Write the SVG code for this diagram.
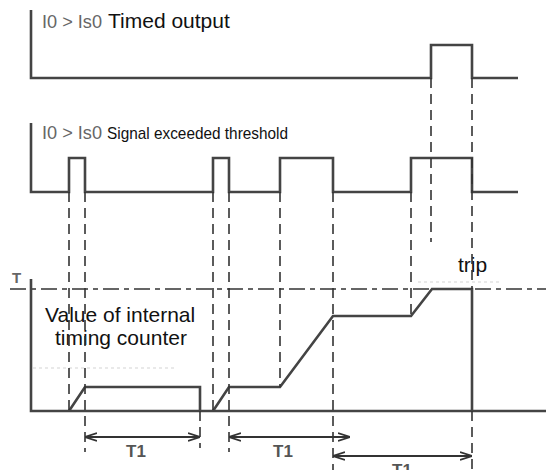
<svg xmlns="http://www.w3.org/2000/svg" width="546" height="470" viewBox="0 0 546 470">
<defs>
<style>
.sig{fill:none;stroke:#444;stroke-width:2.6;stroke-linejoin:miter}
.dash{fill:none;stroke:#333;stroke-width:1.6;stroke-dasharray:10 6}
.dd{fill:none;stroke:#333;stroke-width:1.6;stroke-dasharray:16 5 5 5}
.dim{fill:none;stroke:#333;stroke-width:1.8}
.faint{fill:none;stroke:#e2e2e2;stroke-width:1.5;stroke-dasharray:3 3}
.lbl{font-family:"Liberation Sans",Arial,sans-serif;fill:#111}
.gry{font-family:"Liberation Sans",Arial,sans-serif;fill:#666}
.t1{font-family:"Liberation Sans",Arial,sans-serif;fill:#555;font-size:17px;font-weight:bold;text-anchor:middle}
</style>
<marker id="ah" viewBox="0 0 12 10" refX="12" refY="5" markerWidth="12" markerHeight="10" markerUnits="userSpaceOnUse" orient="auto-start-reverse">
<path d="M0,1 L12,5 L0,9" fill="none" stroke="#333" stroke-width="1.8"/>
</marker>
</defs>
<g id="timed-output">
<polyline class="sig" points="31,10 31,78 431,78 431,45 472,45 472,78 518,78"/>
<text class="gry" x="42" y="28" font-size="19" textLength="60" lengthAdjust="spacingAndGlyphs">I0 &gt; Is0</text>
<text class="lbl" x="108" y="28" font-size="21">Timed output</text>
</g>
<g id="signal">
<polyline class="sig" points="31,123 31,192 69,192 69,158 85,158 85,192 213,192 213,158 229,158 229,192 280,192 280,158 333,158 333,192 411,192 411,158 472,158 472,192 518,192"/>
<text class="gry" x="42" y="139" font-size="19" textLength="60" lengthAdjust="spacingAndGlyphs">I0 &gt; Is0</text>
<text class="lbl" x="107" y="139" font-size="17" textLength="181" lengthAdjust="spacingAndGlyphs">Signal exceeded threshold</text>
</g>
<g id="counter">
<line class="dd" x1="10" y1="289" x2="546" y2="289"/>
<text class="gry" x="12" y="283" font-size="15" font-weight="bold">T</text>
<polyline class="sig" points="31,279 31,411 546,411"/>
<polyline class="sig" points="69,411 85,387 200,387 200,411"/>
<polyline class="sig" points="213,411 229,387 280,387 333,316 411,316 432,289 472,289 472,411"/>
<text class="lbl" x="45" y="322" font-size="21">Value of internal</text>
<text class="lbl" x="55" y="345" font-size="21">timing counter</text>
<text class="lbl" x="458" y="272" font-size="21">trip</text>
<line class="faint" x1="418" y1="282" x2="502" y2="282"/>
<line class="faint" x1="33" y1="368" x2="175" y2="368"/>
</g>
<g id="connectors">
<line class="dash" x1="69" y1="192" x2="69" y2="411"/>
<line class="dash" x1="85" y1="192" x2="85" y2="452"/>
<line class="dash" x1="200" y1="411" x2="200" y2="448"/>
<line class="dash" x1="213" y1="192" x2="213" y2="411"/>
<line class="dash" x1="229" y1="192" x2="229" y2="452"/>
<line class="dash" x1="280" y1="192" x2="280" y2="387"/>
<line class="dash" x1="333" y1="192" x2="333" y2="470"/>
<line class="dash" x1="411" y1="192" x2="411" y2="316"/>
<line class="dash" x1="431" y1="78" x2="431" y2="242"/>
<line class="dash" x1="472" y1="78" x2="472" y2="289"/>
<line class="dash" x1="472" y1="411" x2="472" y2="470"/>
<line class="dim" x1="85" y1="437" x2="200" y2="437" marker-start="url(#ah)" marker-end="url(#ah)"/>
<line class="dim" x1="229" y1="437" x2="350" y2="437" marker-start="url(#ah)" marker-end="url(#ah)"/>
<line class="dim" x1="333" y1="456" x2="472" y2="456" marker-start="url(#ah)" marker-end="url(#ah)"/>
<text class="t1" x="136" y="457">T1</text>
<text class="t1" x="283" y="457">T1</text>
<text class="t1" x="402" y="476">T1</text>
</g>
</svg>
